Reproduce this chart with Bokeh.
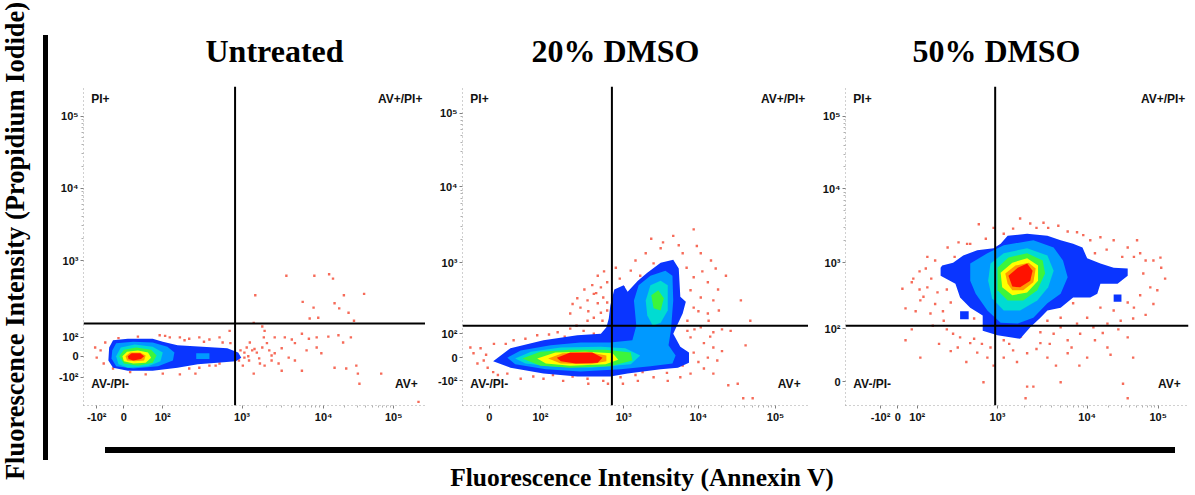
import numpy as np
from bokeh.plotting import figure
from bokeh.models import FixedTicker, Span, Div
from bokeh.layouts import row, column
from bokeh.core.properties import value
from bokeh.embed import file_html
from bokeh.resources import INLINE

# ---------------- labels ----------------
TITLES = ["Untreated", "20% DMSO", "50% DMSO"]
Y_LABEL = "Fluorescence Intensity (Propidium Iodide)"
X_LABEL = "Fluorescence Intensity (Annexin V)"
QUAD_TEXT = ["PI+", "AV+/PI+", "AV-/PI-", "AV+"]

# ---------------- axes (display scale, decades) ----------------
U_XT = [1.17, 1.52, 2.02, 3.04, 4.09, 4.99]
U_XL = ["-10²", "0", "10²", "10³", "10⁴", "10⁵"]
U_YT = [1.39, 1.68, 1.94, 3.0, 4.0, 4.99]
U_YL = ["-10²", "0", "10²", "10³", "10⁴", "10⁵"]
D20_XT = [1.34, 1.99, 3.05, 4.0, 4.98]
D20_XL = ["0", "10²", "10³", "10⁴", "10⁵"]
D20_YT = [1.34, 1.66, 1.99, 2.97, 4.02, 5.03]
D20_YL = ["-10²", "0", "10²", "10³", "10⁴", "10⁵"]
D50_XT = [1.45, 1.67, 1.92, 2.95, 4.10, 5.01]
D50_XL = ["-10²", "0", "10²", "10³", "10⁴", "10⁵"]
D50_YT = [1.33, 2.06, 2.97, 3.99, 4.99]
D50_YL = ["0", "10²", "10³", "10⁴", "10⁵"]

# quadrant gates
GATE_X = [2.95, 2.90, 2.92]
GATE_Y = [2.13, 2.10, 2.10]

# ---------------- Untreated ----------------
U_BLUE_X = [1.33, 1.38, 1.57, 1.89, 2.02, 2.21, 2.53, 2.85, 2.99, 3.03, 2.96, 2.72, 2.47, 2.21, 1.89, 1.57, 1.38, 1.32]
U_BLUE_Y = [1.80, 1.90, 1.92, 1.92, 1.88, 1.83, 1.81, 1.79, 1.73, 1.66, 1.61, 1.59, 1.57, 1.52, 1.48, 1.48, 1.52, 1.62]
U_LBLUE_X = [1.37, 1.42, 1.64, 1.89, 2.08, 2.17, 2.15, 1.96, 1.64, 1.42, 1.36]
U_LBLUE_Y = [1.76, 1.86, 1.88, 1.87, 1.81, 1.73, 1.62, 1.54, 1.51, 1.54, 1.65]
U_LBLUE2_X = [2.45, 2.62, 2.62, 2.45]
U_LBLUE2_Y = [1.72, 1.72, 1.64, 1.64]
U_CYAN_X = [1.42, 1.48, 1.66, 1.89, 2.02, 1.99, 1.83, 1.57, 1.45]
U_CYAN_Y = [1.68, 1.80, 1.84, 1.81, 1.73, 1.61, 1.54, 1.52, 1.57]
U_GREEN_X = [1.46, 1.52, 1.68, 1.87, 1.94, 1.89, 1.70, 1.52]
U_GREEN_Y = [1.68, 1.77, 1.80, 1.77, 1.69, 1.59, 1.55, 1.58]
U_YELLOW_X = [1.50, 1.56, 1.70, 1.83, 1.87, 1.80, 1.64, 1.52]
U_YELLOW_Y = [1.68, 1.74, 1.76, 1.73, 1.66, 1.59, 1.58, 1.61]
U_ORANGE_X = [1.54, 1.60, 1.73, 1.80, 1.78, 1.66, 1.56]
U_ORANGE_Y = [1.68, 1.73, 1.73, 1.69, 1.62, 1.61, 1.62]
U_RED_X = [1.57, 1.62, 1.73, 1.78, 1.74, 1.64, 1.58]
U_RED_Y = [1.68, 1.72, 1.72, 1.68, 1.64, 1.62, 1.64]
U_DOT_X = [3.61, 3.97, 4.16, 4.21, 3.21, 3.82, 4.35, 4.61, 3.96, 4.23, 4.29, 4.41, 3.91, 4.02, 4.48, 3.19,
           3.30, 3.33, 3.46, 3.32, 3.59, 3.68, 3.72, 3.81, 3.90, 4.00, 4.15, 4.28, 4.34, 4.44,
           3.10, 3.17, 3.23, 3.30, 3.39, 3.46, 3.55, 3.64, 3.72, 3.87, 4.00, 4.06, 4.23, 4.38, 4.51, 4.53, 4.55, 4.83,
           3.81, 3.55, 3.33, 3.13, 3.07, 3.26, 3.42, 3.51, 3.19, 5.31,
           1.98, 2.11, 2.24, 2.36, 2.49, 2.62, 2.75, 2.88, 2.79, 2.89,
           2.36, 2.49, 2.62, 2.75, 2.44, 2.24, 2.02, 1.80, 1.60, 1.38, 1.22, 1.17, 1.28, 1.15, 1.26,
           2.95, 3.02, 3.00, 3.07, 3.14, 3.36, 3.42, 3.27,
           2.05, 2.30, 2.55, 2.70, 1.70, 1.45, 3.12, 3.20, 3.05]
U_DOT_Y = [2.79, 2.79, 2.81, 2.75, 2.52, 2.43, 2.52, 2.54, 2.35, 2.41, 2.34, 2.28, 2.20, 2.21, 2.17, 2.14,
           2.09, 2.03, 1.94, 1.94, 1.94, 1.91, 1.86, 1.99, 1.92, 1.94, 1.95, 1.97, 1.87, 1.94,
           1.80, 1.76, 1.73, 1.80, 1.76, 1.72, 1.79, 1.66, 1.62, 1.76, 1.80, 1.72, 1.52, 1.51, 1.55, 1.44, 1.30, 1.44,
           1.48, 1.48, 1.55, 1.62, 1.66, 1.65, 1.62, 1.58, 1.44, 1.05,
           1.97, 1.94, 1.94, 1.92, 1.94, 1.91, 1.94, 2.03, 1.87, 1.86,
           1.51, 1.52, 1.55, 1.58, 1.44, 1.43, 1.44, 1.43, 1.46, 1.51, 1.76, 1.66, 1.87, 1.80, 1.58,
           1.72, 1.76, 1.62, 1.73, 1.87, 1.86, 1.69, 1.58,
           1.96, 1.90, 1.88, 1.55, 1.95, 1.93, 1.68, 1.78, 1.55]

# ---------------- 20% DMSO ----------------
D20_BLUE_X = [1.39, 1.61, 2.03, 2.46, 2.76, 2.83, 2.86, 2.88, 2.93, 3.05, 3.10, 3.23, 3.35, 3.52, 3.68, 3.75,
              3.77, 3.84, 3.80, 3.74, 3.68, 3.77, 3.88, 3.88, 3.74, 3.52, 3.10, 2.88, 2.46, 2.03, 1.61]
D20_BLUE_Y = [1.61, 1.79, 1.90, 1.97, 1.99, 2.08, 2.20, 2.38, 2.60, 2.66, 2.57, 2.72, 2.83, 2.97, 3.01, 2.89,
              2.50, 2.43, 2.27, 2.13, 1.99, 1.81, 1.73, 1.59, 1.52, 1.50, 1.44, 1.40, 1.40, 1.44, 1.52]
D20_LBLUE_X = [1.57, 1.74, 2.12, 2.50, 2.88, 3.16, 3.21, 3.18, 3.24, 3.39, 3.58, 3.67, 3.68, 3.65, 3.62,
               3.71, 3.67, 3.39, 3.01, 2.50, 2.06, 1.67]
D20_LBLUE_Y = [1.66, 1.76, 1.83, 1.87, 1.87, 1.90, 2.10, 2.45, 2.66, 2.79, 2.86, 2.79, 2.45, 2.03, 1.83,
               1.69, 1.58, 1.54, 1.50, 1.47, 1.50, 1.57]
D20_CYAN_X = [1.67, 1.87, 2.25, 2.76, 3.07, 3.26, 3.14, 2.63, 2.12, 1.80]
D20_CYAN_Y = [1.65, 1.74, 1.80, 1.81, 1.79, 1.69, 1.57, 1.52, 1.54, 1.58]
D20_CYAN2_X = [3.33, 3.39, 3.52, 3.61, 3.61, 3.52, 3.42, 3.35]
D20_CYAN2_Y = [2.45, 2.66, 2.72, 2.66, 2.31, 2.14, 2.10, 2.24]
D20_GREEN_X = [1.76, 1.99, 2.37, 2.82, 3.14, 3.16, 2.88, 2.37, 1.99]
D20_GREEN_Y = [1.65, 1.74, 1.77, 1.77, 1.73, 1.62, 1.54, 1.52, 1.55]
D20_GREEN2_X = [3.40, 3.49, 3.56, 3.52, 3.43]
D20_GREEN2_Y = [2.52, 2.59, 2.48, 2.31, 2.34]
D20_YELLOW_X = [1.95, 2.18, 2.56, 2.91, 2.98, 2.82, 2.37, 2.06]
D20_YELLOW_Y = [1.65, 1.73, 1.74, 1.72, 1.63, 1.57, 1.55, 1.58]
D20_ORANGE_X = [2.09, 2.27, 2.63, 2.83, 2.83, 2.63, 2.25]
D20_ORANGE_Y = [1.65, 1.72, 1.73, 1.69, 1.61, 1.57, 1.58]
D20_RED_X = [2.20, 2.37, 2.65, 2.78, 2.72, 2.44, 2.25]
D20_RED_Y = [1.66, 1.73, 1.73, 1.66, 1.59, 1.58, 1.61]
D20_DOT_X = [3.68, 3.94, 3.75, 3.52, 4.03, 4.16, 3.33, 3.43, 3.14, 3.26, 3.05, 3.94, 4.12, 4.22, 3.90, 4.03,
             4.19, 3.94, 4.12, 3.86, 4.03, 4.19, 3.90, 4.07, 3.94, 4.12, 4.24, 4.07, 3.90, 4.19, 3.77, 3.61,
             3.43, 3.23, 3.01, 3.29,
             2.84, 2.76, 2.79, 2.67, 2.72, 2.59, 2.84, 2.76, 2.46, 2.50, 2.37, 2.67, 2.59, 2.78, 2.84, 2.65, 2.72,
             1.23, 1.14, 1.27, 1.19, 1.32, 1.39, 1.10, 1.57, 1.74, 2.03, 2.28, 2.59, 2.79, 1.65, 1.95, 2.21,
             2.37, 2.54, 2.67,
             4.13, 4.26, 3.86, 4.19, 4.38, 4.50, 4.57, 4.69, 3.04, 4.54, 4.66, 4.41, 4.60, 4.35,
             3.55, 3.80, 3.98, 3.85, 4.05, 4.25, 4.00, 4.30, 3.95, 4.15, 4.30, 4.00, 3.80, 3.60, 3.20, 2.95,
             2.85, 2.60, 2.40, 2.15, 1.90, 1.45, 1.30, 1.40, 1.55, 1.80, 2.10, 2.30, 2.45, 2.60, 2.70, 2.80,
             2.95, 3.00, 3.20, 3.40, 2.55, 2.40]
D20_DOT_Y = [3.34, 3.43, 3.21, 3.17, 3.10, 3.00, 3.10, 2.96, 2.86, 2.79, 2.63, 2.77, 2.70, 2.89, 2.59, 2.49,
             2.45, 2.35, 2.27, 2.17, 2.08, 2.01, 1.94, 1.86, 1.73, 1.66, 1.62, 1.51, 1.44, 1.44, 1.39, 1.34,
             1.39, 1.34, 1.39, 1.46,
             2.70, 2.63, 2.49, 2.54, 2.41, 2.45, 2.31, 2.28, 2.48, 2.35, 2.27, 2.21, 2.17, 2.17, 2.42, 2.66, 2.79,
             1.79, 1.72, 1.62, 1.58, 1.52, 1.46, 1.80, 1.44, 1.37, 1.37, 1.34, 1.37, 1.34, 1.90, 1.97, 2.01,
             2.06, 2.03, 1.99,
             2.17, 2.31, 2.03, 1.80, 1.28, 1.30, 1.10, 1.10, 1.30, 2.45, 2.17, 2.03, 1.83, 2.79,
             3.25, 3.10, 3.20, 2.90, 2.85, 2.60, 2.30, 2.05, 2.05, 1.95, 1.75, 1.60, 1.55, 1.45, 1.42, 1.45,
             1.30, 1.30, 1.40, 1.42, 1.40, 1.42, 1.70, 1.85, 1.85, 1.92, 1.98, 1.95, 2.10, 2.30, 2.55, 2.85,
             2.90, 2.75, 3.00, 3.30, 2.60, 2.40]

# ---------------- 50% DMSO ----------------
D50_BLUE_X = [2.22, 2.22, 2.41, 2.47, 2.60, 2.76, 2.76, 2.95, 3.24, 3.37, 3.50, 3.59, 3.76, 3.92, 4.14, 4.23,
              4.27, 4.49, 4.62, 4.62, 4.44, 4.27, 4.10, 4.04, 3.92, 3.76, 3.59, 3.33, 3.08, 2.99, 2.90, 2.69,
              2.51, 2.38, 2.24]
D50_BLUE_Y = [2.90, 2.79, 2.68, 2.49, 2.35, 2.24, 2.03, 1.97, 1.92, 2.08, 2.21, 2.31, 2.35, 2.49, 2.49, 2.54,
              2.68, 2.68, 2.79, 2.89, 2.90, 2.96, 3.03, 3.18, 3.23, 3.28, 3.34, 3.37, 3.34, 3.23, 3.17, 3.14,
              3.07, 2.97, 2.93]
D50_BLUE2_X = [2.47, 2.58, 2.58, 2.47]
D50_BLUE2_Y = [2.30, 2.30, 2.19, 2.19]
D50_BLUE3_X = [4.44, 4.54, 4.54, 4.44]
D50_BLUE3_Y = [2.53, 2.53, 2.43, 2.43]
D50_LBLUE_X = [2.60, 2.82, 3.03, 3.41, 3.67, 3.79, 3.85, 3.76, 3.59, 3.41, 3.21, 2.99, 2.82, 2.67, 2.60]
D50_LBLUE_Y = [2.96, 3.10, 3.21, 3.28, 3.18, 3.00, 2.77, 2.54, 2.41, 2.21, 2.13, 2.14, 2.31, 2.54, 2.72]
D50_CYAN_X = [2.86, 3.03, 3.33, 3.59, 3.67, 3.60, 3.46, 3.24, 3.03, 2.88, 2.83]
D50_CYAN_Y = [2.96, 3.10, 3.17, 3.07, 2.86, 2.63, 2.45, 2.31, 2.31, 2.48, 2.72]
D50_GREEN_X = [2.95, 3.09, 3.33, 3.53, 3.56, 3.46, 3.28, 3.08, 2.95]
D50_GREEN_Y = [2.90, 3.04, 3.10, 3.00, 2.82, 2.59, 2.45, 2.45, 2.59]
D50_YELLOW_X = [2.99, 3.14, 3.33, 3.47, 3.47, 3.33, 3.14, 3.01]
D50_YELLOW_Y = [2.83, 2.97, 3.03, 2.93, 2.72, 2.56, 2.52, 2.63]
D50_ORANGE_X = [3.05, 3.18, 3.35, 3.44, 3.41, 3.28, 3.14, 3.08]
D50_ORANGE_Y = [2.82, 2.93, 2.97, 2.89, 2.70, 2.59, 2.59, 2.68]
D50_RED_X = [3.09, 3.21, 3.33, 3.40, 3.37, 3.24, 3.14]
D50_RED_Y = [2.79, 2.90, 2.96, 2.86, 2.72, 2.63, 2.64]
D50_DOT_X = [2.71, 3.24, 3.37, 3.54, 3.73, 3.15, 3.03, 2.60, 2.56, 2.31,
             2.15, 2.03, 1.87, 1.73, 2.05, 2.18, 1.96, 1.77, 2.09, 2.26,
             2.38, 2.47, 2.60, 2.69, 2.86, 3.03, 3.15, 3.33, 3.50, 3.67,
             3.85, 4.01, 4.18, 4.36, 4.53, 4.69, 4.10, 4.27, 4.44, 4.62,
             4.78, 4.91, 5.00, 4.82, 4.95, 4.78, 4.62, 4.44, 4.27, 4.14,
             3.97, 5.04, 4.74, 3.76, 3.92, 3.85, 4.36, 4.62, 1.96, 1.77,
             2.44, 2.82, 3.03, 3.59, 4.10, 4.69, 2.31, 2.35, 3.59, 3.50,
             3.76, 3.97, 2.77, 3.33, 3.41, 3.31, 4.56, 4.62, 3.76,
             1.85, 1.95, 2.10, 2.00, 1.90, 2.15, 2.25, 2.30, 2.12, 1.85,
             2.20, 2.35, 2.55, 2.65, 2.75, 2.90, 3.10, 3.20, 3.25, 3.45,
             3.62, 3.70, 3.90, 4.00, 4.20, 4.30, 4.40, 4.50, 4.70, 4.85,
             4.95, 5.10, 5.05, 4.85, 4.70, 4.55, 4.35, 4.20, 4.05, 3.85,
             3.60, 3.45, 2.90, 2.80, 2.45, 2.40, 2.05, 1.95, 2.30, 2.65]
D50_DOT_Y = [3.50, 3.58, 3.51, 3.52, 3.48, 3.44, 3.37, 3.23, 3.23, 3.18,
             3.00, 2.89, 2.75, 2.61, 2.63, 2.56, 2.45, 2.34, 2.27, 2.17,
             1.99, 1.94, 1.86, 1.73, 1.80, 1.90, 1.76, 1.72, 1.86, 1.99,
             1.90, 1.99, 2.08, 2.13, 2.17, 2.20, 2.21, 2.35, 2.31, 2.42,
             2.52, 2.63, 2.59, 2.82, 3.00, 3.10, 3.18, 3.28, 3.32, 3.28,
             3.39, 3.04, 3.28, 2.21, 2.41, 1.72, 1.80, 1.94, 1.66, 1.90,
             1.80, 1.66, 1.66, 1.66, 1.66, 1.66, 2.90, 2.42, 2.17, 2.01,
             2.08, 2.13, 1.32, 1.26, 1.26, 1.10, 1.30, 1.10, 1.32,
             2.70, 2.85, 2.75, 2.50, 2.30, 2.40, 2.30, 2.05, 2.10, 2.05,
             1.85, 1.75, 1.60, 1.92, 1.85, 1.55, 1.85, 1.60, 1.95, 1.78,
             1.85, 1.55, 1.80, 1.55, 1.90, 2.00, 1.70, 2.05, 2.35, 2.25,
             2.40, 2.75, 2.90, 3.00, 3.05, 3.05, 3.15, 3.10, 3.35, 3.40,
             3.45, 3.45, 3.45, 3.30, 3.25, 3.05, 3.05, 2.60, 2.60, 2.20]

LEVEL_COLORS = ["#0a35ff", "#0099ff", "#00dcd2", "#3cf53c", "#ffff00", "#ff9a00", "#ff1200"]

U_LEVELS = [
    ([U_BLUE_X], [U_BLUE_Y]),
    ([U_LBLUE_X, U_LBLUE2_X], [U_LBLUE_Y, U_LBLUE2_Y]),
    ([U_CYAN_X], [U_CYAN_Y]),
    ([U_GREEN_X], [U_GREEN_Y]),
    ([U_YELLOW_X], [U_YELLOW_Y]),
    ([U_ORANGE_X], [U_ORANGE_Y]),
    ([U_RED_X], [U_RED_Y]),
]
D20_LEVELS = [
    ([D20_BLUE_X], [D20_BLUE_Y]),
    ([D20_LBLUE_X], [D20_LBLUE_Y]),
    ([D20_CYAN_X, D20_CYAN2_X], [D20_CYAN_Y, D20_CYAN2_Y]),
    ([D20_GREEN_X, D20_GREEN2_X], [D20_GREEN_Y, D20_GREEN2_Y]),
    ([D20_YELLOW_X], [D20_YELLOW_Y]),
    ([D20_ORANGE_X], [D20_ORANGE_Y]),
    ([D20_RED_X], [D20_RED_Y]),
]
D50_LEVELS = [
    ([D50_BLUE_X, D50_BLUE2_X, D50_BLUE3_X], [D50_BLUE_Y, D50_BLUE2_Y, D50_BLUE3_Y]),
    ([D50_LBLUE_X], [D50_LBLUE_Y]),
    ([D50_CYAN_X], [D50_CYAN_Y]),
    ([D50_GREEN_X], [D50_GREEN_Y]),
    ([D50_YELLOW_X], [D50_YELLOW_Y]),
    ([D50_ORANGE_X], [D50_ORANGE_Y]),
    ([D50_RED_X], [D50_RED_Y]),
]

SANS = "Liberation Sans"
SERIF = "Liberation Serif"


def minor_ticks(major):
    out = []
    for a, b in zip(major[-3:-1], major[-2:]):
        for k in range(2, 10):
            out.append(a + (b - a) * np.log10(k))
    return out


def make_panel(title, xt, xl, yt, yl, gx, gy, dx, dy, levels, width, left, right, toff):
    p = figure(width=width, height=430, x_range=(1.0, 5.4), y_range=(1.0, 5.4),
               output_backend="svg", toolbar_location=None,
               min_border_left=left, min_border_right=right,
               min_border_top=86, min_border_bottom=25, title=title)
    p.title.text_font = SERIF
    p.title.text_font_style = "bold"
    p.title.text_font_size = "32px"
    p.title.text_color = "#000000"
    p.title.align = "left"
    p.title.offset = toff
    p.title.standoff = 36
    p.grid.visible = False
    p.outline_line_color = None
    p.background_fill_color = "white"
    p.border_fill_color = "white"

    p.xaxis.ticker = FixedTicker(ticks=xt, minor_ticks=minor_ticks(xt))
    p.yaxis.ticker = FixedTicker(ticks=yt, minor_ticks=minor_ticks(yt))
    p.xaxis.major_label_overrides = dict(zip(xt, xl))
    p.yaxis.major_label_overrides = dict(zip(yt, yl))
    for ax in (p.xaxis[0], p.yaxis[0]):
        ax.axis_line_color = "#a0a0a0"
        ax.axis_line_dash = "1 3"
        ax.major_tick_line_color = "#808080"
        ax.major_tick_out = 3
        ax.major_tick_in = 0
        ax.minor_tick_line_color = "#b0b0b0"
        ax.minor_tick_out = 2
        ax.minor_tick_in = 0
        ax.major_label_text_font = SANS
        ax.major_label_text_font_style = "bold"
        ax.major_label_text_font_size = "11px"
        ax.major_label_text_color = "#111111"
        ax.major_label_standoff = 2

    p.scatter(dx, dy, marker="square", size=2.4, fill_color="#f4462f",
              line_color=None, fill_alpha=0.8)
    for (xs, ys), c in zip(levels, LEVEL_COLORS):
        p.patches(xs=xs, ys=ys, fill_color=c, line_color=None)

    p.add_layout(Span(location=gx, dimension="height", line_color="black", line_width=2))
    p.add_layout(Span(location=gy, dimension="width", line_color="black", line_width=2))

    tf = value(SANS)
    p.text(x=[1.10], y=[5.23], text=[QUAD_TEXT[0]], text_font=tf, text_font_style="bold",
           text_font_size="12px", text_align="left", text_baseline="middle", text_color="#111111")
    p.text(x=[5.36], y=[5.23], text=[QUAD_TEXT[1]], text_font=tf, text_font_style="bold",
           text_font_size="12px", text_align="right", text_baseline="middle", text_color="#111111")
    p.text(x=[1.10], y=[1.29], text=[QUAD_TEXT[2]], text_font=tf, text_font_style="bold",
           text_font_size="12px", text_align="left", text_baseline="middle", text_color="#111111")
    p.text(x=[5.30], y=[1.29], text=[QUAD_TEXT[3]], text_font=tf, text_font_style="bold",
           text_font_size="12px", text_align="right", text_baseline="middle", text_color="#111111")
    return p


f1 = make_panel(TITLES[0], U_XT, U_XL, U_YT, U_YL, GATE_X[0], GATE_Y[0], U_DOT_X, U_DOT_Y,
                U_LEVELS, 370, 25, 0, 122)
f2 = make_panel(TITLES[1], D20_XT, D20_XL, D20_YT, D20_YL, GATE_X[1], GATE_Y[1], D20_DOT_X, D20_DOT_Y,
                D20_LEVELS, 383, 37, 0, 69)
f3 = make_panel(TITLES[2], D50_XT, D50_XL, D50_YT, D50_YL, GATE_X[2], GATE_Y[2], D50_DOT_X, D50_DOT_Y,
                D50_LEVELS, 387, 37, 7, 67)

left_html = (
    '<div style="position:relative;width:55px;height:495px;overflow:hidden;">'
    '<div style="position:absolute;left:43px;top:35px;width:5px;height:425px;background:#000;"></div>'
    '<div style="position:absolute;left:16px;top:241px;transform:translate(-50%,-50%) rotate(-90deg);'
    'white-space:nowrap;font-family:\'Liberation Serif\';font-weight:bold;font-size:26.5px;color:#000;">'
    + Y_LABEL + '</div></div>'
)
bottom_html = (
    '<div style="position:relative;width:1140px;height:65px;overflow:hidden;">'
    '<div style="position:absolute;left:50px;top:17px;width:1070px;height:6px;background:#000;"></div>'
    '<div style="position:absolute;left:587px;top:48px;transform:translate(-50%,-50%);'
    'white-space:nowrap;font-family:\'Liberation Serif\';font-weight:bold;font-size:25.5px;color:#000;">'
    + X_LABEL + '</div></div>'
)
left_div = Div(text=left_html, width=55, height=495, margin=(0, 0, 0, 0))
bottom_div = Div(text=bottom_html, width=1140, height=65, margin=(0, 0, 0, 0))

layout = row(left_div, column(row(f1, f2, f3), bottom_div))
open("out.html", "w").write(file_html(layout, INLINE))
